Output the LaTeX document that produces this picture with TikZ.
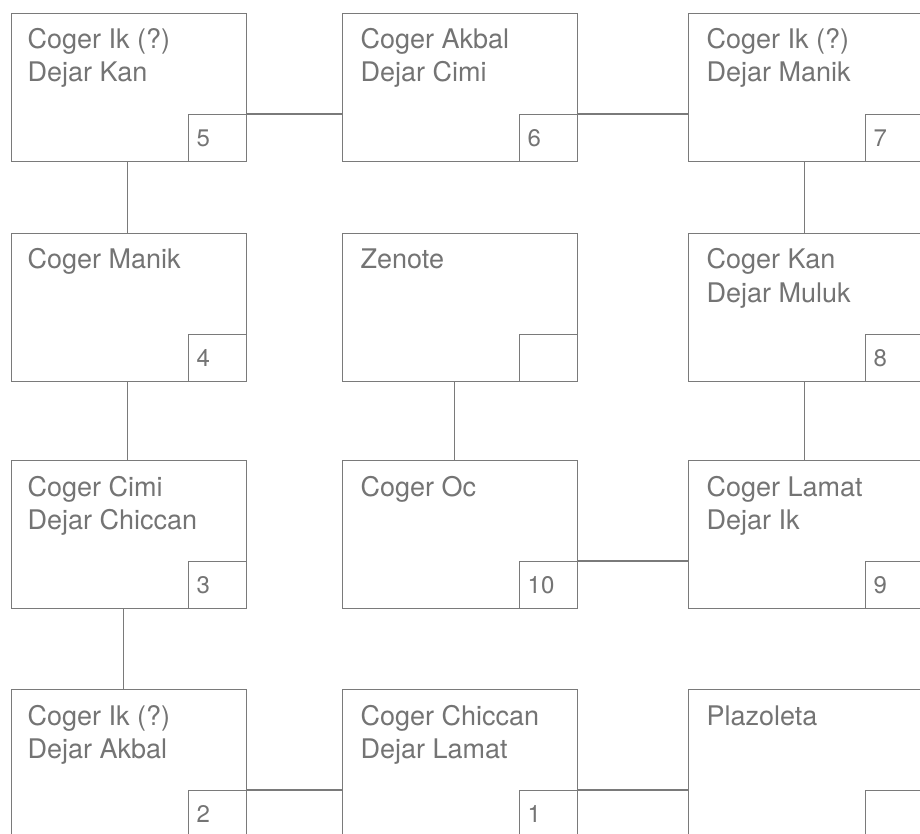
\documentclass[tikz,border=0pt]{standalone}
\usepackage{fontspec}
\newfontfamily\roomfont{TeX Gyre Heros}
\newfontfamily\numfont{TeX Gyre Heros}
\definecolor{ink}{HTML}{747474}
\definecolor{wall}{HTML}{7A7A7A}
\newcommand\roomlines[1]{\begin{tabular}[t]{@{}l@{}}#1\end{tabular}}
\begin{document}
\begin{tikzpicture}[
    x=1pt, y=-1pt,
    line width=1.3pt,
    room/.style={draw=wall, anchor=north west, minimum width=235pt, minimum height=148pt, inner sep=0pt},
    numbox/.style={draw=wall, anchor=south east, minimum width=58pt, minimum height=47pt,
        inner xsep=8pt, inner ysep=0pt, text width=42pt, align=left, text=ink,
        font=\numfont\fontsize{24}{24}\selectfont},
    roomtext/.style={anchor=base west, inner sep=0pt, text=ink,
        font=\roomfont\fontsize{27}{33}\selectfont}
]
\useasboundingbox (0,0) rectangle (920,834);
\fill[white] (0,0) rectangle (920,834);
\clip (0,0) rectangle (920,834);

\node (r5)    [room] at (11,13)   {};
\node (r6)    [room] at (342,13)  {};
\node (r7)    [room] at (688,13)  {};
\node (r4)    [room] at (11,233)  {};
\node (zen)   [room] at (342,233) {};
\node (r8)    [room] at (688,233) {};
\node (r3)    [room] at (11,460)  {};
\node (r10)   [room] at (342,460) {};
\node (r9)    [room] at (688,460) {};
\node (r2)    [room] at (11,689)  {};
\node (r1)    [room] at (342,689) {};
\node (plaza) [room] at (688,689) {};

% texts
\node (t5)    [roomtext] at ([xshift=16pt,yshift=-36pt]r5.north west)    {\roomlines{Coger Ik (?)\\Dejar Kan}};
\node (t6)    [roomtext] at ([xshift=18pt,yshift=-36pt]r6.north west)    {\roomlines{Coger Akbal\\Dejar Cimi}};
\node (t7)    [roomtext] at ([xshift=18pt,yshift=-36pt]r7.north west)    {\roomlines{Coger Ik (?)\\Dejar Manik}};
\node (t4)    [roomtext] at ([xshift=16pt,yshift=-36pt]r4.north west)    {\roomlines{Coger Manik}};
\node (tzen)  [roomtext] at ([xshift=18pt,yshift=-36pt]zen.north west)   {\roomlines{Zenote}};
\node (t8)    [roomtext] at ([xshift=18pt,yshift=-36pt]r8.north west)    {\roomlines{Coger Kan\\Dejar Muluk}};
\node (t3)    [roomtext] at ([xshift=16pt,yshift=-36pt]r3.north west)    {\roomlines{Coger Cimi\\Dejar Chiccan}};
\node (t10)   [roomtext] at ([xshift=18pt,yshift=-36pt]r10.north west)   {\roomlines{Coger Oc}};
\node (t9)    [roomtext] at ([xshift=18pt,yshift=-36pt]r9.north west)    {\roomlines{Coger Lamat\\Dejar Ik}};
\node (t2)    [roomtext] at ([xshift=16pt,yshift=-36pt]r2.north west)    {\roomlines{Coger Ik (?)\\Dejar Akbal}};
\node (t1)    [roomtext] at ([xshift=18pt,yshift=-36pt]r1.north west)    {\roomlines{Coger Chiccan\\Dejar Lamat}};
\node (tplaza)[roomtext] at ([xshift=18pt,yshift=-36pt]plaza.north west) {\roomlines{Plazoleta}};

% numbers
\node (n5)    [numbox] at (r5.south east)    {5};
\node (n6)    [numbox] at (r6.south east)    {6};
\node (n7)    [numbox] at (r7.south east)    {7};
\node (n4)    [numbox] at (r4.south east)    {4};
\node (nzen)  [numbox] at (zen.south east)   {};
\node (n8)    [numbox] at (r8.south east)    {8};
\node (n3)    [numbox] at (r3.south east)    {3};
\node (n10)   [numbox] at (r10.south east)   {10};
\node (n9)    [numbox] at (r9.south east)    {9};
\node (n2)    [numbox] at (r2.south east)    {2};
\node (n1)    [numbox] at (r1.south east)    {1};
\node (nplaza)[numbox] at (plaza.south east) {};

% Edges
\draw[wall] (n5.north east) -- (n5.north east -| r6.west);
\draw[wall] (n6.north east) -- (n6.north east -| r7.west);
\draw[wall] ([xshift=-2pt]r5.south) -- ([xshift=-2pt]r4.north);
\draw[wall] ([xshift=-2pt]r4.south) -- ([xshift=-2pt]r3.north);
\draw[wall] ([xshift=-6pt]r3.south) -- ([xshift=-6pt]r2.north);
\draw[wall] (n2.north east) -- (n2.north east -| r1.west);
\draw[wall] (n1.north east) -- (n1.north east -| plaza.west);
\draw[wall] ([xshift=-2pt]r7.south) -- ([xshift=-2pt]r8.north);
\draw[wall] ([xshift=-2pt]r8.south) -- ([xshift=-2pt]r9.north);
\draw[wall] (n10.north east) -- (n10.north east -| r9.west);
\draw[wall] ([xshift=-6pt]zen.south) -- ([xshift=-6pt]r10.north);

\end{tikzpicture}
\end{document}
